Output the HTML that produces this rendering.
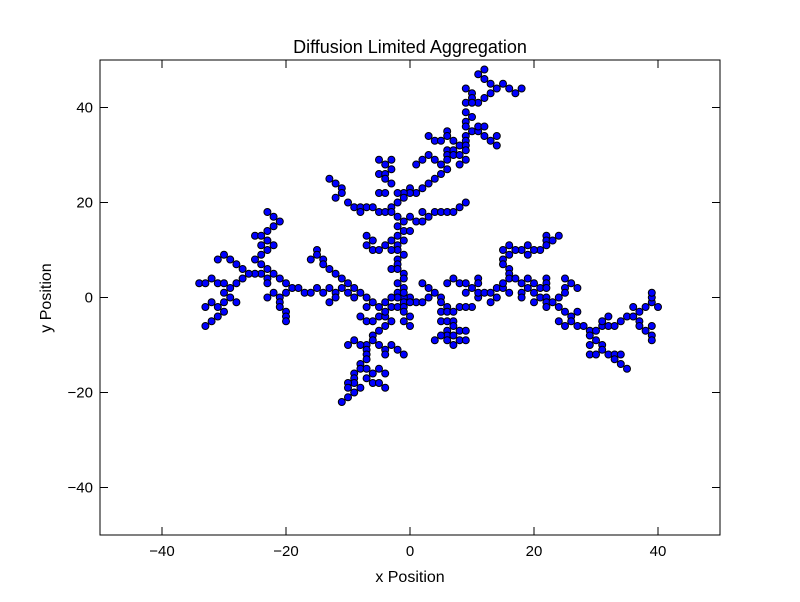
<!DOCTYPE html>
<html><head><meta charset="utf-8"><style>
body{margin:0;background:#fff;}
svg text{font-family:"Liberation Sans",sans-serif;fill:#000;}
</style></head><body>
<svg id="chart" width="800" height="597" viewBox="0 0 800 597" xmlns="http://www.w3.org/2000/svg">
<rect width="800" height="597" fill="#fff"/>
<text x="410" y="53" font-size="18" text-anchor="middle">Diffusion Limited Aggregation</text>
<g id="points"></g>
<rect x="100" y="60" width="620" height="475" fill="none" stroke="#000" stroke-width="1"/>
<g id="ticks"></g>
<text x="410" y="582" font-size="16" text-anchor="middle">x Position</text>
<text x="51" y="298" font-size="16" text-anchor="middle" transform="rotate(-90 51 298)">y Position</text>
</svg>
<script>
const xTicks=[-40,-20,0,20,40];
const yTicks=[-40,-20,0,20,40];
const pts=[[12,48],[11,47],[12,46],[13,45],[14,44],[15,45],[16,44],[17,43],[18,44],[13,43],[12,42],[11,41],[9,44],[10,43],[10,42],[9,41],[10,41],[9,39],[10,38],[9,37],[9,36],[10,35],[11,35],[11,36],[12,36],[12,34],[13,33],[14,34],[14,32],[9,34],[9,33],[6,35],[6,34],[3,34],[4,33],[5,33],[7,33],[8,32],[9,32],[6,31],[7,31],[6,30],[7,30],[8,30],[9,31],[9,29],[8,28],[3,30],[4,29],[5,28],[6,29],[6,27],[5,26],[4,25],[2,29],[1,28],[3,24],[2,23],[0,23],[1,22],[0,22],[-1,22],[-2,22],[-1,21],[-2,20],
[-13,25],[-12,24],[-11,23],[-11,22],[-12,21],[-10,20],[-9,19],[-8,19],[-8,18],[-7,19],[-6,19],[-5,18],[-4,18],[-3,19],[-3,18],[-5,29],[-4,28],[-3,29],[-3,27],[-5,26],[-4,26],[-4,25],[-3,24],[-5,22],[-4,22],
[-2,17],[-1,16],[0,17],[-2,15],[-1,14],[0,14],[-2,13],[-1,12],[-3,12],[-2,11],[-2,10],[-7,13],[-6,12],[-7,11],[-6,10],[-5,10],[-4,11],[-3,10],[-1,9],[-2,8],[-2,7],[-3,6],[-2,6],[-1,5],[-1,4],[-2,3],[-1,2],[-2,1],[0,0],[-1,0],[-2,0],[-3,0],[-1,1],[-1,-1],[1,-1],[2,-1],[0,-1],
[2,18],[1,16],[2,16],[3,17],[4,18],[5,18],[6,18],[7,18],[8,19],[9,20],
[2,3],[3,2],[4,1],[5,0],[3,0],[6,3],[7,4],[8,3],[9,3],[10,2],[11,4],[11,3],[9,1],[11,0],[11,1],[12,1],[13,1],[14,2],[14,0],[13,-1],[10,-2],[15,2],[16,1],[15,3],
[5,-1],[5,-3],[6,-2],[6,-3],[7,-3],[5,-5],[6,-5],[7,-5],[7,-6],[6,-7],[6,-8],[5,-8],[4,-9],[6,-9],[7,-10],[7,-8],[8,-7],[9,-7],[8,-9],[9,-9],[8,-2],[9,-2],
[-7,0],[-7,-2],[-6,-1],[-5,-2],[-4,-1],[-3,-2],[-2,-2],[-1,-2],[-1,-3],[-1,-5],[0,-4],[0,-6],[-8,-4],[-7,-5],[-6,-5],[-5,-4],[-4,-4],[-4,-3],[-3,-5],[-4,-6],[-5,-7],[-6,-8],[-6,-9],[-7,-10],[-7,-11],[-7,-12],[-7,-13],[-8,-10],[-9,-9],[-10,-10],[-5,-10],[-4,-11],[-4,-12],[-3,-10],[-2,-11],[-1,-12],[-8,-14],[-8,-15],[-9,-16],[-9,-17],[-9,-18],[-10,-18],[-10,-19],[-9,-20],[-10,-21],[-11,-22],[-8,-19],[-7,-15],[-5,-15],[-6,-16],[-4,-16],[-7,-17],[-6,-18],[-5,-18],[-4,-19],
[-12,1],[-12,0],[-10,1],[-9,0],[-8,1],[-9,2],[-11,2],[-13,2],[-14,1],[-13,-1],[-15,10],[-15,9],[-16,8],[-14,8],[-14,7],[-13,6],[-12,5],[-11,4],[-10,3],[-19,2],[-18,2],[-17,1],[-16,1],[-15,2],
[-23,18],[-22,17],[-21,16],[-22,15],[-23,14],[-25,13],[-24,13],[-23,12],[-24,11],[-23,10],[-22,11],[-24,9],[-25,8],[-24,7],[-23,6],[-24,5],[-25,5],[-26,5],[-27,6],[-27,4],[-28,7],[-29,8],[-30,9],[-31,8],[-23,4],[-23,3],[-22,5],[-21,4],[-20,3],[-20,1],[-21,0],[-22,1],[-23,0],[-21,-1],[-21,-2],[-20,-3],[-20,-4],[-20,-5],[-34,3],[-33,3],[-32,4],[-31,3],[-30,3],[-29,2],[-28,3],[-30,1],[-29,0],[-28,-1],[-30,-1],[-31,-2],[-32,-1],[-33,-2],[-30,-3],[-31,-4],[-32,-5],[-33,-6],
[22,13],[22,12],[22,11],[23,12],[24,13],[21,10],[20,10],[19,11],[19,9],[18,10],[17,10],[16,11],[16,9],[15,10],[15,8],[15,7],[16,6],[16,5],[16,4],[17,4],
[18,3],[19,4],[20,3],[19,2],[18,1],[18,0],[20,1],[20,-1],[21,2],[21,0],[22,4],[22,3],[22,2],[22,0],[22,-1],[22,-2],[23,-1],[24,0],[24,-2],[25,4],[25,2],[25,1],[26,3],[27,2],[25,-3],[26,-4],[27,-3],[26,-5],[24,-5],[25,-6],[27,-6],[28,-6],
[29,-7],[30,-7],[29,-8],[30,-9],[29,-10],[31,-10],[31,-11],[29,-12],[30,-12],[32,-12],[33,-12],[34,-12],[33,-13],[34,-14],[35,-15],[31,-6],[31,-5],[32,-4],[32,-6],[33,-6],[34,-5],[35,-4],[36,-4],[36,-2],[37,-3],[37,-5],[37,-6],[38,-7],[39,-6],[39,-8],[39,-9],[38,-2],[39,-1],[39,0],[39,1],[40,-2]];
const xVals=pts.map(p=>p[0]);
const yVals=pts.map(p=>p[1]);
const NS="http://www.w3.org/2000/svg";
const sx=v=>410+v*6.2;
const sy=v=>297.5-v*4.75;
const g=document.getElementById('points');
for(let i=0;i<xVals.length;i++){
  const c=document.createElementNS(NS,'circle');
  c.setAttribute('cx',sx(xVals[i]));c.setAttribute('cy',sy(yVals[i]));
  c.setAttribute('r',3.5);c.setAttribute('fill','#0000ff');c.setAttribute('stroke','#000');c.setAttribute('stroke-width','1');
  
  
  g.appendChild(c);
}
const t=document.getElementById('ticks');
function ln(x1,y1,x2,y2){const l=document.createElementNS(NS,'line');l.setAttribute('x1',x1);l.setAttribute('y1',y1);l.setAttribute('x2',x2);l.setAttribute('y2',y2);l.setAttribute('stroke','#000');


t.appendChild(l);}
function tx(x,y,s,anchor){const e=document.createElementNS(NS,'text');e.setAttribute('x',x);e.setAttribute('y',y);e.setAttribute('font-size','15');e.setAttribute('text-anchor',anchor);e.textContent=s;


t.appendChild(e);}
const fmt=v=>v<0?'\u2212'+(-v):String(v);
xTicks.forEach(v=>{const x=sx(v);ln(x,535,x,527);ln(x,60,x,68);tx(x,556,fmt(v),'middle');});
yTicks.forEach(v=>{const y=sy(v);ln(100,y,108,y);ln(720,y,712,y);tx(93,y+5,fmt(v),'end');});
</script>
</body></html>
